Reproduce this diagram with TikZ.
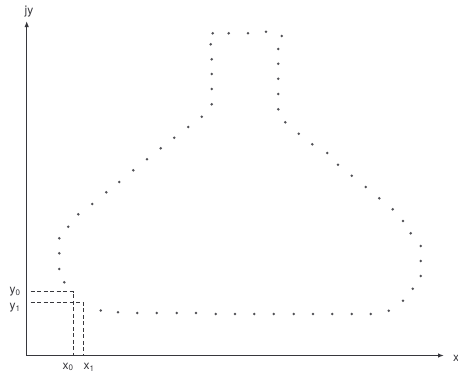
\documentclass[tikz,border=0pt]{standalone}
\usepackage{fontspec}
\setmainfont{TeX Gyre Heros}
\usetikzlibrary{arrows.meta}
\definecolor{ink}{RGB}{55,55,60}
\definecolor{dotgray}{RGB}{80,80,85}

\begin{document}
\begin{tikzpicture}[x=1pt, y=-1pt, every node/.style={inner sep=0pt, text=ink, font=\fontsize{12}{14}\selectfont},
    axis/.style={draw=ink, line width=1.4pt, -{Latex[length=6pt, width=4.5pt]}},
    guide/.style={draw=ink, dash pattern=on 4pt off 2.5pt, line width=0.7pt},
    pixel/.style={fill=dotgray}]
    \useasboundingbox (0,0) rectangle (458,381);
    % axes
    \coordinate (origin) at (26.7,355.5);
    \coordinate (xtip) at (444,355.5);
    \coordinate (ytip) at (26.7,21);
    \draw[axis] (origin) -- (xtip);
    \draw[axis] (origin) -- (ytip);
    \node (ylab) at (29,12) {jy};
    \node (xlab) [anchor=west] at (453,358) {x};

    % sampled outline
    \foreach \px/\py in {212.7/33.3, 228.7/33.3, 248/33.3, 266/31.7, 281.7/36,
        278.3/49, 278.3/63.7, 278.3/78.7, 278.3/94, 278.3/109.3,
        285.3/122.3, 298.7/133.7, 312.3/144.3, 327.3/153, 338/164.7, 351.7/175.7,
        365.7/187, 379.3/198.3, 392.7/209.3, 403/221, 410.7/233.3,
        420.7/246, 420.7/261, 420.7/276, 412.7/288.7, 403/300.7, 388.7/310.7,
        370.7/314, 351.7/314, 332.3/314, 313/314, 293.7/314, 273.7/314, 254.3/314,
        235/314, 215.7/314, 196/313, 176.7/313, 156.7/313, 137.3/313, 118/312.3,
        100.7/310.5,
        64.3/282.3, 59.3/269, 59.3/253.3, 59.3/238.3, 68.3/226.7, 78.3/214.3,
        92.3/204, 106.3/192.3, 119.3/182, 133.3/170.3, 147/159.3, 160.7/148.3,
        174.3/137.7, 188.3/127, 201.7/116.7,
        211.7/104.3, 211.7/89, 211.7/74, 211.7/59.3, 210.7/44.3}
        \fill[pixel] (\px,\py) circle (1.4pt);

    % first two points projected on the axes
    \coordinate (p0) at (73.3,291.7);
    \coordinate (p1) at (83.3,302.7);
    \node (y0) at (15,291.5) {y\textsubscript{0}};
    \node (y1) at (15,308) {y\textsubscript{1}};
    \node (x0) at (68,367) {x\textsubscript{0}};
    \node (x1) at (89,367) {x\textsubscript{1}};
    \draw[guide] (30.5,291.7) -- (p0) -- (73.3,355);
    \draw[guide] (30.5,302.7) -- (p1) -- (83.3,355);
\end{tikzpicture}
\end{document}
